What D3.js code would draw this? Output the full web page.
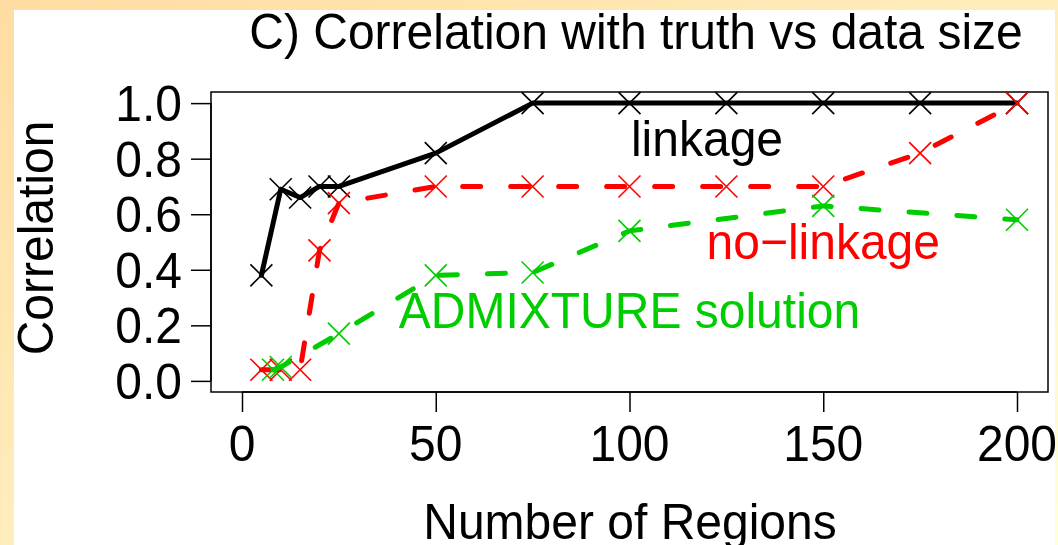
<!DOCTYPE html>
<html>
<head>
<meta charset="utf-8">
<script src="https://cdn.jsdelivr.net/npm/d3@7"></script>
<style>
  html, body { margin: 0; padding: 0; }
  body { width: 1058px; height: 545px; overflow: hidden; }
  text { font-family: "Liberation Sans", Arial, sans-serif; }
</style>
</head>
<body>
<div id="chart"></div>
<script>
// chart values
var regions = [5, 10, 15, 20, 25, 50, 75, 100, 125, 150, 175, 200];
var linkage = [0.38, 0.69, 0.66, 0.70, 0.70, 0.82, 1.0, 1.0, 1.0, 1.0, 1.0, 1.0];
var noLinkage = [0.04, 0.04, 0.04, 0.47, 0.64, 0.70, 0.70, 0.70, 0.70, 0.70, 0.82, 1.0];
var admixRegions = [8, 10, 25, 50, 75, 100, 150, 200];
var admixture = [0.04, 0.05, 0.17, 0.38, 0.39, 0.54, 0.63, 0.58];
var xTicks = [0, 50, 100, 150, 200];
var yTicks = [0, 0.2, 0.4, 0.6, 0.8, 1.0];

var W = 1058, H = 545;
var box = {left: 211, right: 1048, top: 92, bottom: 392};
var SX = 0.96; // the figure's font is a touch narrower than Liberation Sans

var svg = d3.select("#chart").append("svg")
  .attr("width", W)
  .attr("height", H);

// slide background
var defs = svg.append("defs");
var grad = defs.append("linearGradient")
  .attr("id", "bg").attr("x1", "0").attr("y1", "0").attr("x2", "1").attr("y2", "1");
grad.append("stop").attr("offset", "0").attr("stop-color", "#ffdca2");
grad.append("stop").attr("offset", "1").attr("stop-color", "#ffffd6");
svg.append("rect").attr("width", W).attr("height", H).attr("fill", "url(#bg)");

defs.append("clipPath").attr("id", "panel")
  .append("rect").attr("x", 14).attr("y", 10).attr("width", 1041).attr("height", 535);

var g = svg.append("g").attr("clip-path", "url(#panel)");
g.append("rect").attr("x", 14).attr("y", 10).attr("width", 1041).attr("height", 535).attr("fill", "#fff");

// R style: 4% padding around 0..200 and 0..1
var x = d3.scaleLinear().domain([-8, 208]).range([box.left, box.right]);
var y = d3.scaleLinear().domain([-0.04, 1.04]).range([box.bottom, box.top]);

function label(px, py, txt, size, anchor, color, rot) {
  var t = "translate(" + px + "," + py + ")" + (rot ? " rotate(" + rot + ")" : "") + " scale(" + SX + ",1)";
  return g.append("text")
    .attr("transform", t)
    .attr("text-anchor", anchor)
    .attr("font-size", size)
    .attr("fill", color || "#000")
    .text(txt);
}

g.append("rect")
  .attr("x", box.left).attr("y", box.top)
  .attr("width", box.right - box.left).attr("height", box.bottom - box.top)
  .attr("fill", "none").attr("stroke", "#000").attr("stroke-width", 1.5);

var xAxis = g.append("g")
  .attr("transform", "translate(0," + box.bottom + ")")
  .call(d3.axisBottom(x).tickValues(xTicks).tickSize(20).tickFormat(""));
xAxis.select(".domain").attr("d", "M" + x(0) + ",0H" + x(200)).attr("stroke-width", 1.5);
xAxis.selectAll(".tick line").attr("stroke-width", 1.5);
xTicks.forEach(function(d) { label(x(d), 461, d3.format("d")(d), 50, "middle"); });

var yAxis = g.append("g")
  .attr("transform", "translate(" + box.left + ",0)")
  .call(d3.axisLeft(y).tickValues(yTicks).tickSize(20).tickFormat(""));
yAxis.select(".domain").attr("d", "M0," + y(0) + "V" + y(1)).attr("stroke-width", 1.5);
yAxis.selectAll(".tick line").attr("stroke-width", 1.5);
yTicks.forEach(function(d) { label(182, y(d) + 18, d3.format(".1f")(d), 50, "end"); });

// titles
label(636, 49, "C) Correlation with truth vs data size", 50, "middle");
label(630, 539, "Number of Regions", 50, "middle");
label(53, 238, "Correlation", 50, "middle", "#000", -90);

function series(xs, ys, color, dashed, width) {
  var pts = xs.map(function(d, i) { return [d, ys[i]]; });
  var line = d3.line().x(function(d) { return x(d[0]); }).y(function(d) { return y(d[1]); });
  g.append("path").datum(pts)
    .attr("d", line)
    .attr("fill", "none")
    .attr("stroke", color)
    .attr("stroke-width", width)
    .attr("stroke-linecap", "round")
    .attr("stroke-linejoin", "round")
    .attr("stroke-dasharray", dashed ? "18 30" : null);
  var s = 11;
  g.selectAll(null).data(pts).enter().append("path")
    .attr("d", function(d) {
      var cx = x(d[0]), cy = y(d[1]);
      return "M" + (cx - s) + "," + (cy - s) + "L" + (cx + s) + "," + (cy + s) +
             "M" + (cx - s) + "," + (cy + s) + "L" + (cx + s) + "," + (cy - s);
    })
    .attr("stroke", color)
    .attr("stroke-width", 1.6)
    .attr("fill", "none");
}

series(regions, linkage, "#000", false, 5);
series(regions, noLinkage, "#ff0000", true, 5);
series(admixRegions, admixture, "#00cd00", true, 5);

// in-plot labels
label(x(120), y(0.87) + 17, "linkage", 50, "middle", "#000");
label(x(150), y(0.5) + 17, "no\u2212linkage", 50, "middle", "#ff0000");
label(x(100), y(0.25) + 17, "ADMIXTURE solution", 50, "middle", "#00cd00");
</script>
</body>
</html>
